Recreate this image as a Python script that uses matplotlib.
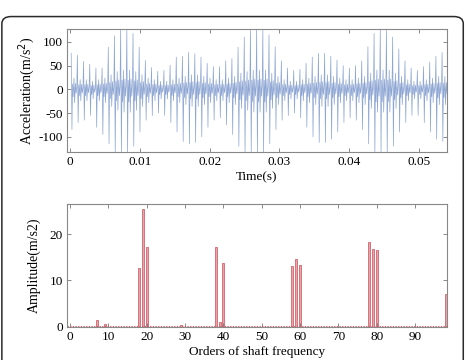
import numpy as np
import matplotlib.pyplot as plt
from matplotlib.patches import FancyBboxPatch

plt.rcParams['font.family'] = ['Liberation Serif', 'DejaVu Serif']
plt.rcParams['axes.unicode_minus'] = False
plt.rcParams['font.size'] = 9

# --- time signal: one impulse per mesh cycle (peak / trough read per cycle) ---
cycle_start = 0.00015
cycle_len = 0.000886
peaks = [76, 72, 59, 53, 45, 45, 89, 113, 128, 128, 118, 89, 61, 46, 38, 40,
         51, 68, 70, 78, 75, 68, 55, 48, 48, 60, 65, 89, 110, 128, 128, 128,
         115, 90, 60, 45, 40, 42, 55, 68, 76, 76, 70, 62, 50, 45, 50, 60,
         90, 118, 128, 128, 110, 85, 60, 45, 40, 48, 58, 70, 78]
troughs = [-85, -70, -65, -55, -80, -95, -115, -135, -135, -135, -120, -90,
           -65, -55, -50, -55, -70, -90, -110, -115, -112, -100, -80, -65,
           -60, -75, -95, -120, -135, -135, -135, -135, -115, -85, -65, -55,
           -50, -60, -80, -100, -112, -112, -105, -90, -70, -60, -65, -85,
           -115, -135, -135, -135, -120, -90, -70, -55, -55, -70, -90, -105,
           -110]
# strength of the ringing between impulses, per cycle (1 = dense dark band)
ring = [0.7, 0.6, 0.6, 0.5, 0.6, 0.7, 0.9, 1.1, 1.2, 1.2, 1.1, 0.9, 0.7, 0.6,
        0.5, 0.5, 0.6, 0.7, 0.8, 0.9, 0.9, 0.8, 0.7, 0.6, 0.6, 0.7, 0.8, 1.0,
        1.1, 1.2, 1.2, 1.2, 1.0, 0.8, 0.6, 0.5, 0.5, 0.6, 0.7, 0.8, 0.9, 0.9,
        0.8, 0.7, 0.6, 0.6, 0.7, 0.8, 1.0, 1.2, 1.2, 1.2, 1.0, 0.8, 0.6, 0.5,
        0.5, 0.6, 0.7, 0.8, 0.8]
# typical ringing inside one cycle (m/s^2) and where it sits in the cycle
ripple = [16, -22, 34, -40, 18, -12, 6]
ripple_pos = [0.22, 0.32, 0.45, 0.55, 0.68, 0.80, 0.90]

# --- order spectrum ---
orders = [7, 9, 18, 19, 20, 29, 38, 39, 40, 58, 59, 60, 78, 79, 80, 98]
amps = [1.4, 0.5, 12.7, 25.4, 17.3, 0.4, 17.3, 1.1, 13.7, 13.1, 14.6, 13.3,
        18.4, 16.9, 16.6, 7.1]

t_pts, a_pts = [], []
for k in range(len(peaks)):
    base = cycle_start + k * cycle_len
    t_pts += [base, base + 0.12 * cycle_len]
    a_pts += [peaks[k], troughs[k]]
    for f, v in zip(ripple_pos, ripple):
        t_pts.append(base + f * cycle_len)
        a_pts.append(v * ring[k])

fig = plt.figure(figsize=(4.67, 3.6), dpi=100)

frame = FancyBboxPatch((0.004, -0.2), 0.988, 0.2 + 0.954,
                       boxstyle='round,pad=0,rounding_size=0.02',
                       transform=fig.transFigure, fill=False,
                       edgecolor='#2a2a2a', linewidth=1.1)
fig.patches.append(frame)

ax1 = fig.add_axes([0.1435, 0.578, 0.8135, 0.341])
ax1.plot(t_pts, a_pts, color='#8ea6d3', linewidth=0.5)
ax1.set_xlim(-0.00045, 0.0540)
ax1.set_ylim(-132, 127)
ax1.set_xticks([0, 0.01, 0.02, 0.03, 0.04, 0.05])
ax1.set_xticklabels(['0', '0.01', '0.02', '0.03', '0.04', '0.05'])
ax1.set_yticks([-100, -50, 0, 50, 100])
ax1.set_xlabel('Time(s)', labelpad=2, fontsize=9.5)
ax1.set_ylabel('Acceleration(m/s$^2$)', labelpad=1, fontsize=10)

ax2 = fig.add_axes([0.1435, 0.0925, 0.8135, 0.3405])
ax2.bar(orders, amps, width=0.5, color='#eaa3a9', edgecolor='#d0646d',
        linewidth=0.6)
ax2.axhline(0.25, color='#d0646d', linewidth=0.8, linestyle=(0, (1.2, 1.2)))
ax2.set_xlim(-0.8, 98.3)
ax2.set_ylim(0, 26.5)
ax2.set_xticks(range(0, 100, 10))
ax2.set_yticks([0, 10, 20])
ax2.set_xlabel('Orders of shaft frequency', labelpad=2, fontsize=9.5)
ax2.set_ylabel('Amplitude(m/s2)', labelpad=6, fontsize=10)

for ax in (ax1, ax2):
    ax.tick_params(direction='in', top=True, right=True, length=3,
                   width=0.6, color='#777777', labelsize=9.5, pad=3)
    for sp in ax.spines.values():
        sp.set_color('#888888')
        sp.set_linewidth(0.8)

fig.savefig('out.png', dpi=100)
